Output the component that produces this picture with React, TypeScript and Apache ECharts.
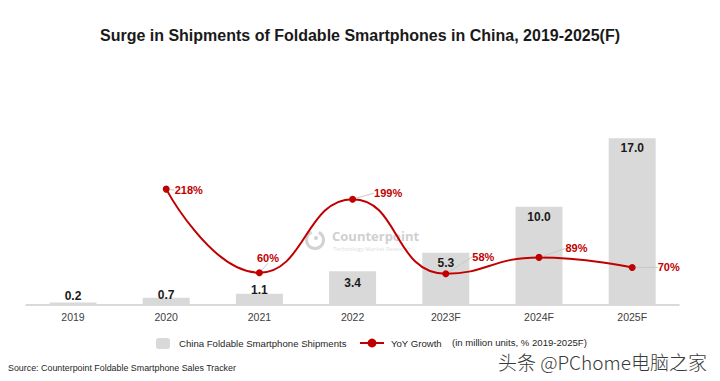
import React, { useEffect, useRef } from "react";
import * as echarts from "echarts";

const categories = ["2019", "2020", "2021", "2022", "2023F", "2024F", "2025F"];
const shipments = [0.2, 0.7, 1.1, 3.4, 5.3, 10.0, 17.0];
const yoyGrowth: (number | null)[] = [null, 218, 60, 199, 58, 89, 70];

const FONT = "'Liberation Sans', Arial, sans-serif";
const RED = "#c00000";

// label offsets for growth labels (dx, dy)
const growthOffsets: [number, number][] = [
  [0, 0],
  [0, 1],
  [-11, -15],
  [13, -6],
  [18, -17],
  [18, -9],
  [17, 0],
];

const barLabelPos: { position: string; distance: number }[] = [
  { position: "top", distance: 1 },
  { position: "top", distance: -3 },
  { position: "top", distance: -2 },
  { position: "insideTop", distance: 6 },
  { position: "insideTop", distance: 4 },
  { position: "insideTop", distance: 4 },
  { position: "insideTop", distance: 4 },
];

export default function App() {
  const ref = useRef<HTMLDivElement>(null);
  useEffect(() => {
    if (!ref.current) return;
    const chart = echarts.init(ref.current, undefined, { renderer: "svg" });
    chart.setOption({
      animation: false,
      backgroundColor: "#ffffff",
      title: {
        text: "Surge in Shipments of Foldable Smartphones in China, 2019-2025(F)",
        left: "center",
        top: 22,
        textStyle: { fontFamily: FONT, fontSize: 16, fontWeight: "bold", color: "#1a1a1a" },
      },
      grid: { left: 26.4, right: 41.2, top: 138.3, bottom: 76.5 },
      legend: [
        {
          data: ["China Foldable Smartphone Shipments"],
          left: 151,
          top: 333,
          itemWidth: 14,
          itemHeight: 11,
          textStyle: { fontFamily: FONT, fontSize: 9.6, color: "#262626", padding: [0, 0, 0, 4] },
        },
        {
          data: ["YoY Growth"],
          left: 354,
          top: 333,
          itemWidth: 24,
          itemHeight: 11,
          textStyle: { fontFamily: FONT, fontSize: 9.6, color: "#262626", padding: [0, 0, 0, 2] },
        },
      ],
      xAxis: {
        type: "category",
        data: categories,
        axisLine: { lineStyle: { color: "#d9d9d9", width: 2 } },
        axisTick: { show: false },
        axisLabel: { fontFamily: FONT, fontSize: 10.5, color: "#404040", margin: 7 },
      },
      yAxis: [
        { type: "value", min: 0, max: 17, show: false, splitLine: { show: false } },
        { type: "value", min: 0, max: 314, show: false, splitLine: { show: false } },
      ],
      graphic: [
        {
          type: "group",
          z: -10,
          silent: true,
          children: [
            {
              type: "arc",
              shape: { cx: 315, cy: 240, r: 8.5, startAngle: -1.1, endAngle: 4.3 },
              style: { stroke: "#d2d2d2", lineWidth: 3, fill: "none" },
            },
            {
              type: "circle",
              shape: { cx: 316, cy: 238, r: 2 },
              style: { fill: "#d2d2d2" },
            },
            {
              type: "text",
              x: 332,
              y: 236,
              style: {
                text: "Counterpoint",
                fontFamily: "'Open Sans', 'Liberation Sans', sans-serif",
                fontSize: 13,
                fontWeight: "bold",
                fill: "#d0d0d0",
                verticalAlign: "middle",
              },
            },
            {
              type: "text",
              x: 333,
              y: 249,
              style: {
                text: "Technology Market Research",
                fontFamily: "'Open Sans', 'Liberation Sans', sans-serif",
                fontSize: 5.8,
                fill: "#e0e0e0",
                verticalAlign: "middle",
              },
            },
          ],
        },
        {
          type: "text",
          x: 452,
          y: 342.5,
          style: {
            text: "(in million units, % 2019-2025F)",
            fontFamily: FONT,
            fontSize: 9.6,
            fill: "#262626",
            verticalAlign: "middle",
          },
        },
        {
          type: "text",
          x: 8,
          y: 368,
          style: {
            text: "Source: Counterpoint Foldable Smartphone Sales Tracker",
            fontFamily: FONT,
            fontSize: 8.9,
            fill: "#262626",
            verticalAlign: "middle",
          },
        },
        {
          type: "text",
          x: 498,
          y: 361,
          z: 100,
          style: {
            text: "头条 @PChome电脑之家",
            fontFamily: "'Noto Sans CJK SC', sans-serif",
            fontSize: 19,
            fontWeight: 300,
            fill: "#3a3a3a",
            verticalAlign: "middle",
          },
        },
      ],
      series: [
        {
          name: "China Foldable Smartphone Shipments",
          type: "bar",
          yAxisIndex: 0,
          barWidth: 47,
          itemStyle: { color: "#d9d9d9" },
          z: 1,
          data: shipments.map((v, i) => ({
            value: v,
            label: {
              show: true,
              position: barLabelPos[i].position,
              distance: barLabelPos[i].distance,
              formatter: v.toFixed(1),
              fontFamily: FONT,
              fontSize: 12,
              fontWeight: "bold",
              color: "#1a1a1a",
            },
          })),
        },
        {
          name: "YoY Growth",
          type: "line",
          yAxisIndex: 1,
          smooth: 0.5,
          symbol: "circle",
          symbolSize: 7,
          z: 3,
          lineStyle: { color: RED, width: 2 },
          itemStyle: { color: RED },
          label: {
            show: true,
            position: "right",
            distance: 5,
            formatter: (p: any) => (p.value == null ? "" : p.value + "%"),
            fontFamily: FONT,
            fontSize: 11,
            fontWeight: "bold",
            color: RED,
          },
          labelLine: { show: true, lineStyle: { color: "#c8c8c8", width: 1 } },
          labelLayout: (params: any) => {
            const o = growthOffsets[params.dataIndex] || [0, 0];
            return { dx: o[0], dy: o[1] };
          },
          data: yoyGrowth,
        },
      ],
    });
    return () => chart.dispose();
  }, []);
  return (
    <div
      ref={ref}
      style={{ position: "absolute", left: 0, top: 0, width: 720, height: 381 }}
    />
  );
}
